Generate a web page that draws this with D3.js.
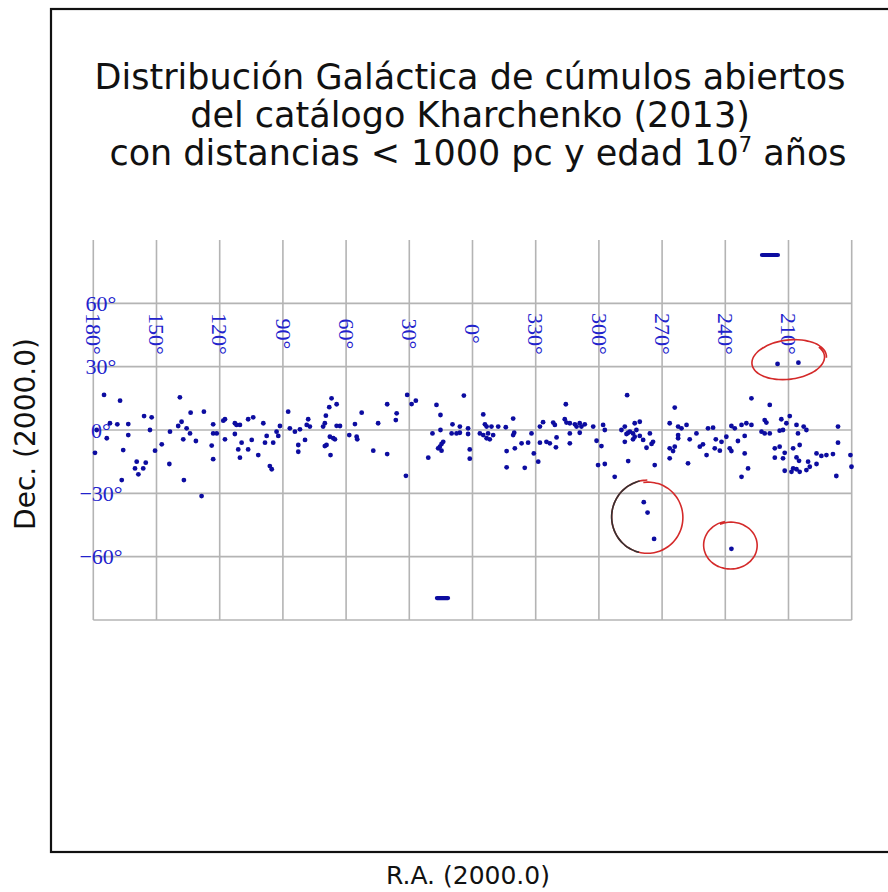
<!DOCTYPE html>
<html>
<head>
<meta charset="utf-8">
<script src="https://cdn.jsdelivr.net/npm/d3@7/dist/d3.min.js"></script>
<style>
  body { margin: 0; background: #ffffff; }
  svg { display: block; }
</style>
</head>
<body>
<svg id="chart" width="888" height="892"></svg>
<script>
// ---- Data -------------------------------------------------------------
const raTicks = [180, 150, 120, 90, 60, 30, 0, 330, 300, 270, 240, 210];
const decTicks = [60, 30, 0, -30, -60];
const decGrid = [60, 30, 0, -30, -60, -90];

// Open clusters: [R.A. (deg), Dec. (deg)]
const clusters = [
  [174.9,16.6],[167.3,13.9],[138.9,15.5],[66.9,15.0],[64.5,12.2],[68.0,10.8],[52.6,8.2],[87.5,8.7],[127.5,8.7],[133.8,8.2],
  [155.9,6.6],[152.3,6.0],[104.1,6.0],[106.5,5.1],[117.5,5.1],[118.3,4.4],[69.6,6.8],[172.1,3.2],[168.6,2.7],[163.4,2.8],
  [112.8,3.2],[112.0,2.4],[110.4,2.4],[99.3,3.2],[123.1,2.7],[138.1,3.9],[139.7,1.9],[78.0,5.1],[78.7,2.4],[77.2,1.6],
  [70.1,3.2],[70.9,1.6],[64.5,2.0],[62.9,1.9],[55.8,2.8],[44.8,3.2],[135.7,0.8],[134.1,-1.6],[178.4,0.0],[153.1,0.0],
  [143.6,-0.8],[123.1,-1.6],[121.4,-1.6],[112.8,-1.9],[97.7,-2.8],[91.4,1.9],[93.0,-0.8],[92.2,-2.8],[86.7,0.8],[84.3,-0.8],
  [81.9,0.3],[163.4,-2.4],[173.6,-3.9],[67.7,-3.2],[66.1,-3.9],[65.3,-4.4],[58.5,-2.4],[55.0,-3.2],[54.7,-4.4],[117.5,-4.4],
  [137.3,-4.4],[131.3,-5.2],[109.6,-6.0],[104.8,-4.7],[98.5,-6.0],[94.6,-6.0],[79.5,-4.7],[147.5,-6.8],[123.8,-7.4],[82.7,-7.1],
  [82.7,-10.3],[111.2,-9.2],[106.5,-9.2],[70.1,-7.6],[69.3,-7.1],[165.8,-9.5],[150.7,-9.8],[179.2,-10.8],[101.7,-11.9],[67.4,-11.9],
  [47.1,-9.8],[110.4,-13.1],[123.1,-13.8],[159.4,-15.0],[155.1,-15.5],[143.9,-16.1],[160.2,-18.2],[156.3,-18.2],[158.6,-21.0],[96.2,-17.1],
  [95.3,-18.6],[166.5,-23.7],[137.0,-23.7],[128.6,-31.3],
  [31.0,16.6],[26.9,13.9],[28.9,12.3],[4.1,16.3],[40.5,12.2],[17.1,11.9],[315.7,12.2],[36.0,7.9],[36.4,4.7],[15.2,7.1],
  [354.9,7.4],[340.7,5.4],[326.5,3.7],[328.0,1.6],[321.7,3.5],[320.9,2.4],[316.2,5.1],[315.4,3.5],[313.8,3.2],[311.4,2.7],
  [309.1,3.2],[308.3,1.6],[306.7,2.7],[310.6,1.6],[9.5,2.7],[6.0,1.6],[2.1,0.8],[354.1,2.7],[353.3,1.6],[351.0,1.6],
  [347.8,1.6],[344.2,1.3],[302.7,1.6],[19.0,-1.6],[15.2,0.0],[9.9,-1.6],[7.6,-1.6],[6.0,-1.3],[356.5,-1.6],[354.9,-2.4],
  [352.6,-1.6],[353.3,-3.9],[351.8,-4.4],[350.2,-2.4],[2.1,-1.9],[340.2,-1.3],[340.7,-2.4],[332.0,-1.6],[313.8,-1.6],[309.1,-1.3],
  [320.1,-3.5],[13.9,-5.6],[14.7,-6.6],[336.7,-6.3],[333.6,-6.0],[328.0,-6.0],[324.9,-5.6],[323.3,-6.3],[313.8,-6.3],[301.1,-5.1],
  [16.3,-8.7],[14.7,-9.8],[15.5,-7.9],[320.4,-8.2],[339.9,-8.7],[343.8,-10.0],[40.5,-11.4],[1.3,-9.2],[330.9,-11.1],[21.0,-13.1],
  [1.3,-13.6],[328.8,-15.0],[300.4,-16.6],[343.8,-17.7],[335.2,-17.9],[31.6,-21.7],
  [286.6,16.5],[227.6,15.0],[218.9,11.9],[264.0,10.6],[209.4,6.6],[213.4,5.1],[211.0,3.2],[221.3,4.7],[220.5,3.5],[266.4,3.2],
  [262.4,1.6],[258.4,2.4],[260.8,0.8],[248.2,0.8],[245.8,1.1],[237.1,1.9],[235.5,0.8],[232.3,2.4],[230.0,3.2],[227.6,2.4],
  [206.2,2.4],[202.8,1.6],[201.5,0.0],[186.5,1.6],[280.6,3.9],[283.0,3.2],[287.7,1.6],[289.3,0.0],[285.3,-0.8],[283.8,-1.6],
  [282.2,0.0],[298.0,2.4],[297.2,0.0],[275.8,-1.6],[262.4,-2.4],[262.4,-3.9],[253.7,-1.6],[256.9,-4.4],[239.5,-3.2],[244.5,-4.4],
  [241.8,-5.6],[234.0,-5.2],[230.8,-2.8],[222.8,-0.8],[221.3,-1.6],[218.9,-1.6],[214.2,-0.3],[212.6,0.0],[205.5,-1.6],[283.8,-4.4],
  [287.7,-5.6],[279.0,-4.7],[274.3,-5.6],[275.0,-6.6],[298.8,-7.6],[277.4,-8.4],[266.4,-8.7],[264.0,-7.9],[264.8,-10.0],[266.4,-13.4],
  [252.1,-7.9],[250.6,-6.8],[248.9,-11.9],[245.0,-8.7],[242.6,-9.8],[237.1,-10.0],[237.9,-8.7],[230.8,-11.1],[216.5,-8.7],[214.2,-7.9],
  [207.8,-8.7],[204.7,-7.1],[211.8,-10.8],[216.5,-13.1],[212.6,-13.4],[206.2,-13.0],[205.0,-14.6],[186.5,-6.0],[196.7,-11.1],[194.4,-12.3],
  [192.0,-11.9],[188.9,-11.4],[180.6,-11.9],[180.1,-17.4],[200.7,-15.0],[196.7,-16.1],[199.9,-17.4],[201.5,-19.0],[211.8,-19.3],[208.6,-19.8],
  [206.2,-18.6],[204.7,-19.8],[207.8,-18.2],[187.3,-21.8],[297.2,-16.1],[286.1,-14.7],[273.5,-16.6],[257.7,-15.8],[229.2,-18.2],[232.3,-22.2],
  [292.5,-22.2],[286.9,-1.9],[283.0,-3.2],[280.6,-2.8],[286.1,-1.3]
];

// Clusters far from the Galactic plane (circled by hand)
const outliers = [[215.2,31.3],[205.3,31.9],[278.7,-34.2],[276.9,-39.1],[273.8,-51.6],[237.1,-56.3]];

// Groups close to the celestial poles, drawn as short streaks in R.A.
const polarStreaks = [
  { raStart: 222.6, raEnd: 215.0, dec: 82.9 },
  { raStart: 16.9, raEnd: 11.6, dec: -79.6 }
];

// Hand-drawn rings around the outliers (centre and radii in degrees)
const rings = [
  { ra: 209.9, dec: 33.2, rRa: 17.0, rDec: 9.0, tilt: -0.12, start: -0.5, sweep: 6.9, darkSide: false },
  { ra: 276.8, dec: -41.3, rRa: 16.4, rDec: 16.6, tilt: 0.0, start: -1.7, sweep: 6.4, darkSide: true },
  { ra: 237.4, dec: -54.6, rRa: 12.3, rDec: 10.9, tilt: 0.0, start: -2.0, sweep: 6.5, darkSide: false }
];

const titleLines = [
  "Distribución Galáctica de cúmulos abiertos",
  "del catálogo Kharchenko (2013)"
];

// ---- Scales -----------------------------------------------------------
const svg = d3.select("#chart");
const raOffset = d3.scaleLinear().domain([0, 360]).range([93.3, 851.7]);
const x = ra => raOffset((((180 - ra) % 360) + 360) % 360);
const y = d3.scaleLinear().domain([-90, 90]).range([620, 240]);

const blueText = "#2222cc";
const pointColor = "#0c0ca0";

// ---- Figure frame -----------------------------------------------------
svg.append("rect")
  .attr("x", 51).attr("y", 9).attr("width", 860).attr("height", 843)
  .attr("fill", "#ffffff").attr("stroke", "#111").attr("stroke-width", 2.2);

// ---- Title ------------------------------------------------------------
const title = svg.append("g")
  .attr("font-family", "'DejaVu Sans', sans-serif")
  .attr("font-size", 35)
  .attr("fill", "#111")
  .attr("text-anchor", "middle");
titleLines.forEach((t, i) => {
  title.append("text").attr("x", 470).attr("y", 89 + i * 38).text(t);
});
const l3 = title.append("text").attr("x", 478).attr("y", 165);
l3.append("tspan").text("con distancias < 1000 pc y edad 10");
l3.append("tspan").attr("font-size", 21).attr("dy", -13).text("7");
l3.append("tspan").attr("dy", 13).text(" años");

// ---- Graticule --------------------------------------------------------
const grid = svg.append("g").attr("stroke", "#b4b4b4").attr("stroke-width", 1.6);
grid.selectAll("line.v")
  .data(d3.range(0, 361, 30))
  .join("line")
  .attr("x1", d => raOffset(d)).attr("x2", d => raOffset(d))
  .attr("y1", y(90)).attr("y2", y(-90));
grid.selectAll("line.h")
  .data(decGrid)
  .join("line")
  .attr("x1", raOffset(0)).attr("x2", raOffset(360))
  .attr("y1", d => y(d)).attr("y2", d => y(d));

// ---- Tick labels ------------------------------------------------------
svg.append("g")
  .attr("font-family", "'Liberation Serif', 'DejaVu Serif', serif")
  .attr("font-size", 22)
  .attr("fill", blueText)
  .attr("text-anchor", "middle")
  .selectAll("text")
  .data(decTicks)
  .join("text")
  .attr("x", 101)
  .attr("y", d => y(d))
  .attr("dy", "0.35em")
  .text(d => (d < 0 ? "\u2212" + Math.abs(d) : d) + "°");

svg.append("g")
  .attr("font-family", "'Liberation Serif', 'DejaVu Serif', serif")
  .attr("font-size", 22)
  .attr("fill", blueText)
  .attr("text-anchor", "middle")
  .selectAll("text")
  .data(raTicks)
  .join("text")
  .attr("transform", d => `translate(${x(d)},${y(45.5)}) rotate(90)`)
  .attr("dy", "0.33em")
  .text(d => d + "°");

// ---- Clusters ---------------------------------------------------------
const pts = svg.append("g").attr("fill", pointColor);
pts.selectAll("circle.c")
  .data(clusters.concat(outliers))
  .join("circle")
  .attr("cx", d => x(d[0]))
  .attr("cy", d => y(d[1]))
  .attr("r", 2.4);

svg.append("g")
  .attr("stroke", pointColor).attr("stroke-width", 4.2).attr("stroke-linecap", "round")
  .selectAll("line")
  .data(polarStreaks)
  .join("line")
  .attr("x1", d => x(d.raStart)).attr("x2", d => x(d.raEnd))
  .attr("y1", d => y(d.dec)).attr("y2", d => y(d.dec));

// ---- Hand-drawn rings -------------------------------------------------
const ringLine = d3.line().curve(d3.curveCatmullRom);
rings.forEach(r => {
  const cx = x(r.ra), cy = y(r.dec);
  const rx = raOffset(r.rRa) - raOffset(0);
  const ry = y(0) - y(r.rDec);
  const n = 60;
  const pts = d3.range(n + 1).map(i => {
    const t = r.start + r.sweep * i / n;
    const grow = 1 + 0.06 * (i / n);
    const px = rx * grow * Math.cos(t), py = ry * grow * Math.sin(t);
    return [cx + px * Math.cos(r.tilt) - py * Math.sin(r.tilt),
            cy + px * Math.sin(r.tilt) + py * Math.cos(r.tilt), Math.cos(t)];
  });
  svg.append("path")
    .attr("d", ringLine(pts.map(p => [p[0], p[1]])))
    .attr("fill", "none").attr("stroke", "#d42a2a").attr("stroke-width", 1.6);
  if (r.darkSide) {
    const left = pts.filter(p => p[2] < -0.15);
    svg.append("path")
      .attr("d", ringLine(left.map(p => [p[0], p[1]])))
      .attr("fill", "none").attr("stroke", "#333").attr("stroke-width", 1.6);
  }
});

// ---- Axis labels ------------------------------------------------------
svg.append("text")
  .attr("x", 468).attr("y", 884)
  .attr("text-anchor", "middle")
  .attr("font-family", "'DejaVu Sans', sans-serif")
  .attr("font-size", 25).attr("fill", "#111")
  .text("R.A. (2000.0)");

svg.append("text")
  .attr("transform", "translate(35,434) rotate(-90)")
  .attr("text-anchor", "middle")
  .attr("font-family", "'DejaVu Sans', sans-serif")
  .attr("font-size", 28).attr("fill", "#111")
  .text("Dec. (2000.0)");
</script>
</body>
</html>
